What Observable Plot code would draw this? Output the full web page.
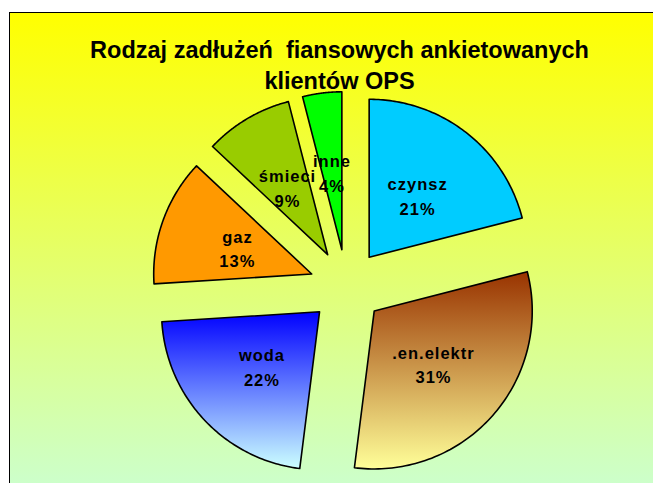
<!DOCTYPE html>
<html><head><meta charset="utf-8">
<script src="https://cdn.jsdelivr.net/npm/d3@7"></script>
<script src="https://cdn.jsdelivr.net/npm/@observablehq/plot@0.6"></script>
<style>
html,body{margin:0;padding:0;background:#fff;overflow:hidden}
#chart svg{overflow:hidden;display:block}
</style>
</head><body><div id="chart"></div>
<script>
const categories = ["czynsz", ".en.elektr", "woda", "gaz", "śmieci", "inne"];
const values = [21, 31, 22, 13, 9, 4];
const titleLines = ["Rodzaj zadłużeń  fiansowych ankietowanych", "klientów OPS"];
const sliceFills = ["#00CCFF", "url(#gElektr)", "url(#gWoda)", "#FF9900", "#99CC00", "#00FF00"];

const explode = 0.234, labelR = 0.5, steps = 90;
const arcs = d3.pie().sort(null).value(d => d)(values);
const slices = arcs.map((p, i) => {
  const mid = (p.startAngle + p.endAngle) / 2;
  const ox = explode * Math.sin(mid), oy = explode * Math.cos(mid);
  const pts = [{x: ox, y: oy}];
  for (let k = 0; k <= steps; k++) {
    const a = p.startAngle + (p.endAngle - p.startAngle) * k / steps;
    pts.push({x: ox + Math.sin(a), y: oy + Math.cos(a)});
  }
  return {i, pts, label: {x: ox + labelR * Math.sin(mid), y: oy + labelR * Math.cos(mid), text: `${categories[i]}\n${values[i]}%`}};
});

const W = 653, H = 483, mL = 9, mT = 12;
const cx = 346, cy = 286, R = 158;

const plot = Plot.plot({
  width: W, height: H,
  marginLeft: mL, marginTop: mT, marginRight: 0, marginBottom: 0,
  x: {axis: null, domain: [(mL - cx) / R, (W - cx) / R]},
  y: {axis: null, domain: [-(H - cy) / R, (cy - mT) / R]},
  style: {fontFamily: "'Liberation Sans', Arial, sans-serif", background: "#fff", color: "#000"},
  marks: [
    Plot.frame({fill: "url(#bg)", stroke: "#000", strokeWidth: 1, insetRight: -4, insetBottom: -4}),
    ...slices.map(s => Plot.line(s.pts, {x: "x", y: "y", fill: sliceFills[s.i], stroke: "#000", strokeWidth: 1.6, curve: "linear-closed"})),
    Plot.text([titleLines.join("\n")], {frameAnchor: "top", dx: 8, dy: 23, fontSize: 23.5, fontWeight: "bold", lineHeight: 1.32, fill: "#000"}),
    Plot.text(slices.map(s => s.label), {x: "x", y: "y", text: "text", fontSize: 16.5, fontWeight: "bold", lineHeight: 1.5, fill: "#000"})
  ]
});

const svg = d3.select(plot);
const defs = svg.insert("defs", ":first-child");
function grad(id, c0, c1) {
  const g = defs.append("linearGradient").attr("id", id).attr("x1", 0).attr("y1", 0).attr("x2", 0).attr("y2", 1);
  g.append("stop").attr("offset", 0).attr("stop-color", c0);
  g.append("stop").attr("offset", 1).attr("stop-color", c1);
}
grad("bg", "#FFFF00", "#CCFFCC");
grad("gElektr", "#993300", "#FFFF99");
grad("gWoda", "#0000FF", "#CCFFFF");
const textGroups = svg.selectAll('g[aria-label="text"]').nodes();
d3.select(textGroups[textGroups.length - 1]).selectAll("text").style("letter-spacing", "1px");
document.getElementById("chart").appendChild(plot);
</script>
</body></html>
